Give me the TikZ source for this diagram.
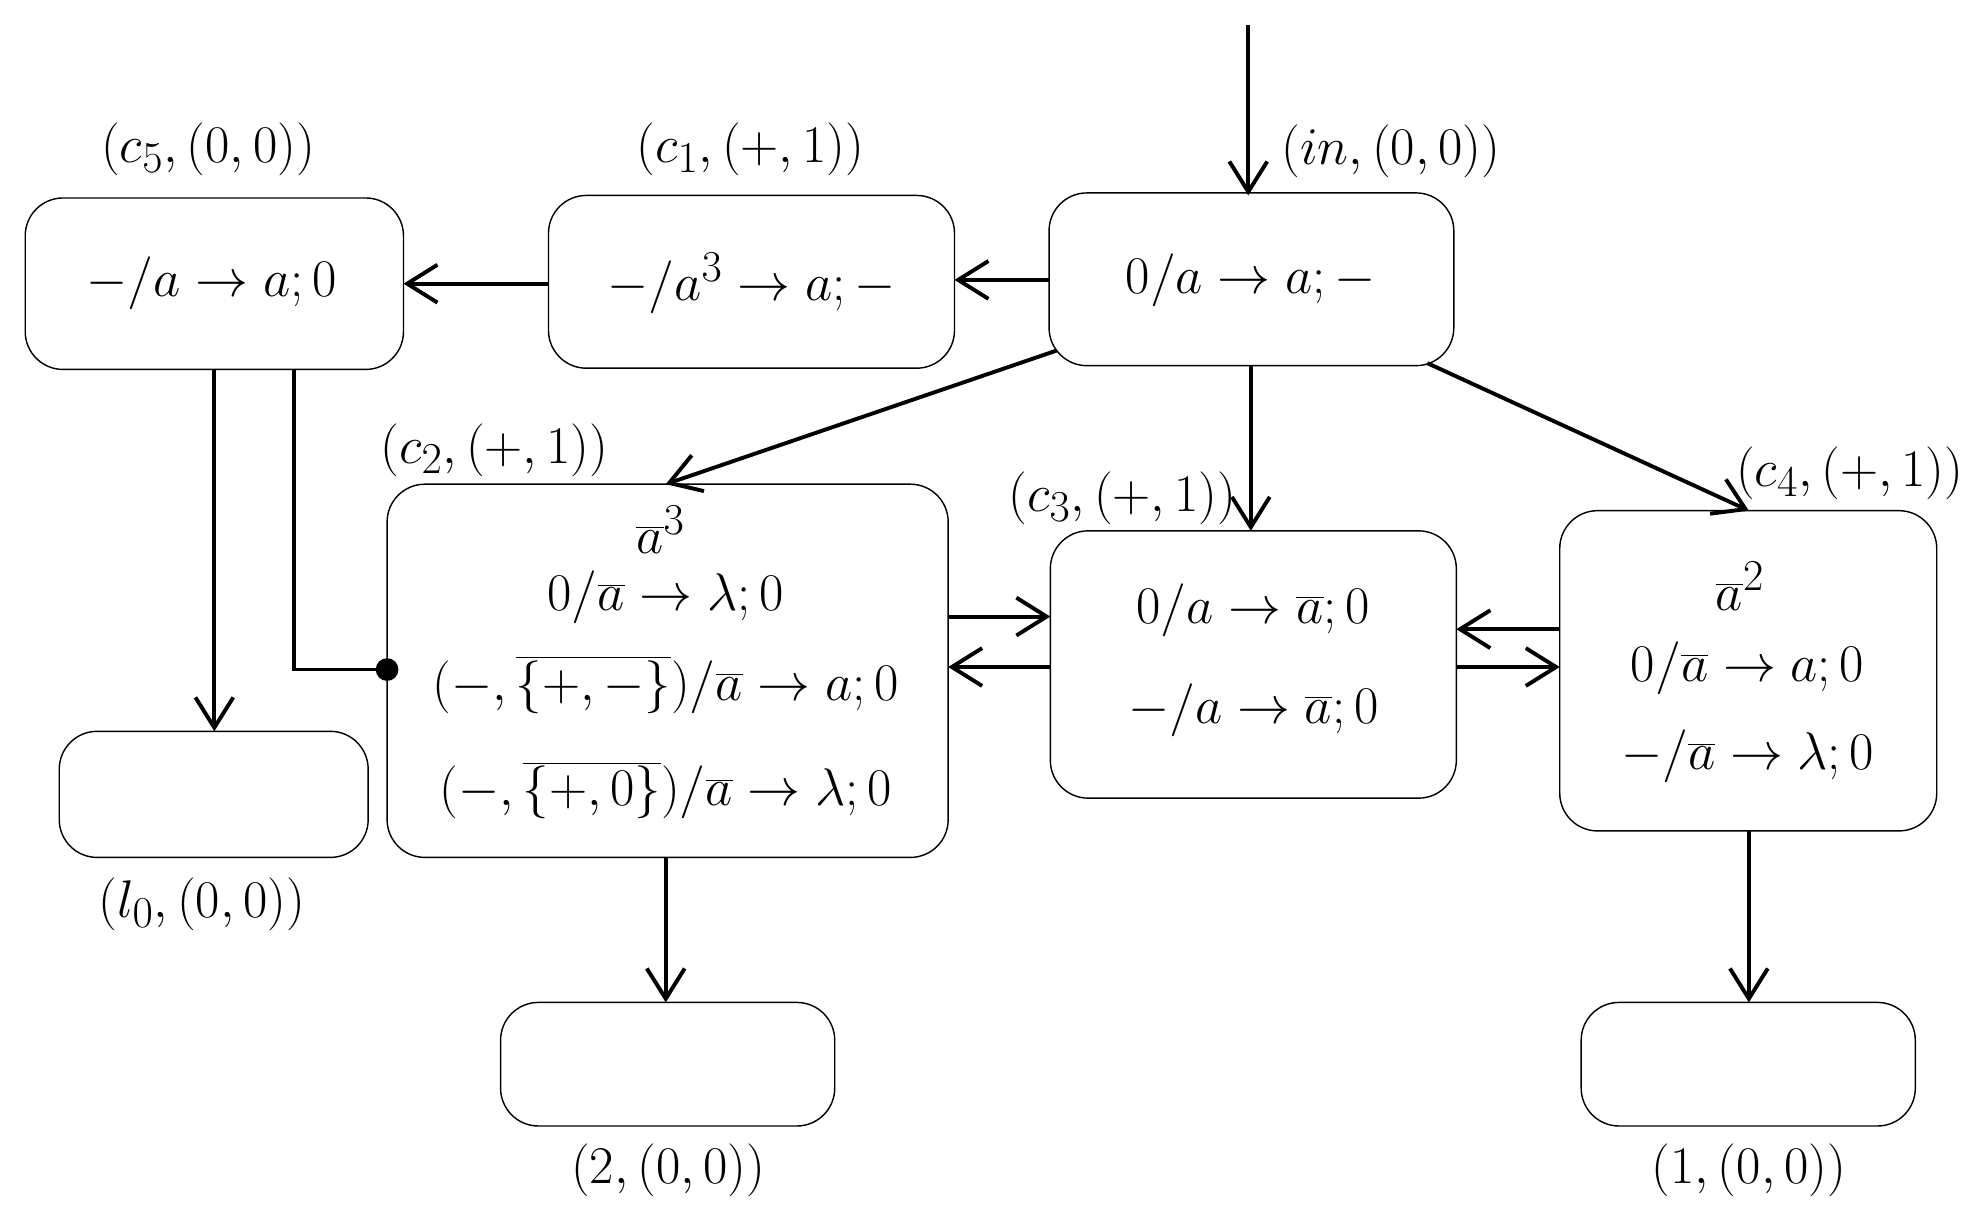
\documentclass[tikz,border=0pt]{standalone}
\usetikzlibrary{arrows.meta}
\newcommand\bigt[1]{\scalebox{1.2}{#1}}
\begin{document}
\begin{tikzpicture}[x=0.025cm,y=-0.025cm,
 box/.style={draw,line width=0.8pt,rounded corners=0.75cm},
 arr/.style={line width=2.2pt,-{Straight Barb[length=0.6cm,width=0.75cm,line width=2.2pt]}},
 lin/.style={line width=2.2pt},
 t/.style={font=\fontsize{28}{34}\selectfont,inner sep=0pt}]
\useasboundingbox (0,0) rectangle (1560,959);
\draw[box] (20,157) rectangle (320,293);
\draw[box] (435,155) rectangle (757,292);
\draw[box] (832,153) rectangle (1153,290);
\draw[box] (307,384) rectangle (752,680);
\draw[box] (833,421) rectangle (1155,633);
\draw[box] (1237,405) rectangle (1536,659);
\draw[box] (47,580) rectangle (292,680);
\draw[box] (397,795) rectangle (662,893);
\draw[box] (1254,795) rectangle (1519,893);
% labels
\node[t] (L5) at (165,118) {\bigt{$(c_5,(0,0))$}};
\node[t] (L1) at (595,118) {\bigt{$(c_1,(+,1))$}};
\node[t] (Lin) at (1103,120) {\bigt{$(in,(0,0))$}};
\node[t] (L2) at (392,357) {\bigt{$(c_2,(+,1))$}};
\node[t] (L3) at (890,395) {\bigt{$(c_3,(+,1))$}};
\node[t] (L4) at (1467,375) {\bigt{$(c_4,(+,1))$}};
\node[t] (Ll) at (160,717) {\bigt{$(l_0,(0,0))$}};
\node[t] (Lt) at (530,928) {\bigt{$(2,(0,0))$}};
\node[t] (Lo) at (1387,928) {\bigt{$(1,(0,0))$}};
% contents
\node[t] (T5) at (168,225) {\bigt{${-}/a\to a;0$}};
\node[t] (T1) at (596,225) {\bigt{${-}/a^3\to a;{-}$}};
\node[t] (Tin) at (992,222) {\bigt{$0/a\to a;{-}$}};
\node[t] (T2a) at (524,420) {\bigt{$\overline{a}^3$}};
\node[t] (T2b) at (528,474) {\bigt{$0/\overline{a}\to\lambda;0$}};
\node[t] (T2c) at (528,543) {\bigt{$(-,\overline{\{+,-\}})/\overline{a}\to a;0$}};
\node[t] (T2d) at (528,627) {\bigt{$(-,\overline{\{+,0\}})/\overline{a}\to\lambda;0$}};
\node[t] (T3a) at (994,484) {\bigt{$0/a\to\overline{a};0$}};
\node[t] (T3b) at (994,563) {\bigt{${-}/a\to\overline{a};0$}};
\node[t] (T4a) at (1380,465) {\bigt{$\overline{a}^2$}};
\node[t] (T4b) at (1386,530) {\bigt{$0/\overline{a}\to a;0$}};
\node[t] (T4c) at (1386,600) {\bigt{${-}/\overline{a}\to\lambda;0$}};
% connectors
\coordinate (s) at (990,20); \coordinate (inT) at (990,155);
\draw[arr] (s) -- (inT);
\coordinate (a1) at (832,222); \coordinate (a2) at (757,222);
\draw[arr] (a1) -- (a2);
\coordinate (b1) at (435,225); \coordinate (b2) at (320,225);
\draw[arr] (b1) -- (b2);
\coordinate (c1) at (838,278); \coordinate (c2) at (528,384);
\draw[arr] (c1) -- (c2);
\coordinate (d1) at (992,290); \coordinate (d2) at (992,421);
\draw[arr] (d1) -- (d2);
\coordinate (e1) at (1132,288); \coordinate (e2) at (1387,405);
\draw[arr] (e1) -- (e2);
\coordinate (f1) at (170,293); \coordinate (f2) at (170,580);
\draw[arr] (f1) -- (f2);
\coordinate (g1) at (233,293); \coordinate (g2) at (307,531);
\draw[lin] (g1) |- (g2); \fill (g2) circle (9);
\coordinate (h1) at (752,489); \coordinate (h2) at (833,489);
\draw[arr] (h1) -- (h2);
\coordinate (i1) at (833,529); \coordinate (i2) at (752,529);
\draw[arr] (i1) -- (i2);
\coordinate (j1) at (1237,499); \coordinate (j2) at (1155,499);
\draw[arr] (j1) -- (j2);
\coordinate (k1) at (1155,529); \coordinate (k2) at (1237,529);
\draw[arr] (k1) -- (k2);
\coordinate (m1) at (528,680); \coordinate (m2) at (528,795);
\draw[arr] (m1) -- (m2);
\coordinate (n1) at (1387,659); \coordinate (n2) at (1387,795);
\draw[arr] (n1) -- (n2);
\end{tikzpicture}
\end{document}
